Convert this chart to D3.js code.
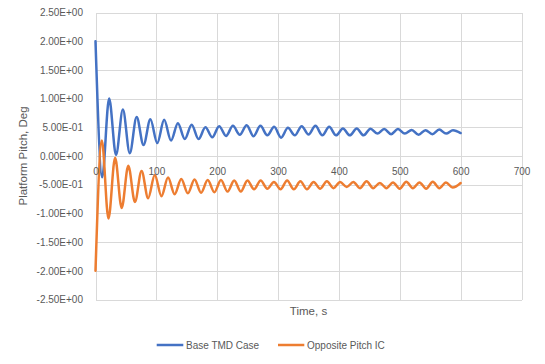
<!DOCTYPE html>
<html>
<head>
<meta charset="utf-8">
<script src="https://cdn.jsdelivr.net/npm/d3@7"></script>
<style>
  html, body { margin: 0; padding: 0; background: #fff; }
  svg { display: block; }
  text { font-family: "Liberation Sans", Arial, sans-serif; fill: #595959; }
</style>
</head>
<body>
<svg id="chart" width="545" height="364"></svg>
<script>
// ---- data ----
const seriesNames = ["Base TMD Case", "Opposite Pitch IC"];
const seriesColors = ["#4472C4", "#ED7D31"];

const baseTime = [0, 11, 22.4, 33.7, 45.0, 56.3, 67.6, 78.9, 90.2, 101.5, 112.8, 124.1, 135.4, 146.7,
  158.0, 169.3, 180.6, 191.9, 203.2, 214.5, 225.8, 237.1, 248.4, 259.7, 271.0, 282.3, 293.6, 304.9,
  316.2, 327.5, 338.8, 350.1, 361.4, 372.7, 384.0, 395.3, 406.6, 417.9, 429.2, 440.5, 451.8, 463.1,
  474.4, 485.7, 497.0, 508.3, 519.6, 530.9, 542.2, 553.5, 564.8, 576.1, 587.4, 600];
const basePitch = [2.00, -0.37, 1.00, 0.02, 0.81, 0.05, 0.68, 0.19, 0.64, 0.225, 0.63, 0.27, 0.57, 0.295,
  0.545, 0.295, 0.50, 0.325, 0.52, 0.35, 0.525, 0.37, 0.537, 0.345, 0.525, 0.36, 0.508, 0.32,
  0.49, 0.36, 0.52, 0.375, 0.525, 0.36, 0.508, 0.36, 0.478, 0.36, 0.478, 0.36, 0.475, 0.39,
  0.47, 0.38, 0.47, 0.39, 0.455, 0.37, 0.45, 0.38, 0.46, 0.39, 0.45, 0.40];

const oppTime = [0, 10.4, 21.3, 32.2, 43.0, 53.9, 64.8, 75.7, 86.5, 97.4, 108.3, 119.2, 130.0, 140.9,
  151.8, 162.7, 173.5, 184.4, 195.3, 206.2, 217.0, 227.9, 238.8, 249.7, 260.5, 271.4, 282.3, 293.2,
  304.0, 314.9, 325.8, 336.7, 347.5, 358.4, 369.3, 380.2, 391.0, 401.9, 412.8, 423.7, 434.5, 445.4,
  456.3, 467.2, 478.0, 488.9, 499.8, 510.7, 521.5, 532.4, 543.3, 554.2, 565.0, 575.9, 586.8, 600];
const oppPitch = [-2.00, 0.27, -1.09, -0.03, -0.905, -0.17, -0.80, -0.26, -0.735, -0.33, -0.70, -0.375, -0.665, -0.40,
  -0.65, -0.41, -0.64, -0.42, -0.63, -0.42, -0.62, -0.425, -0.62, -0.425, -0.58, -0.425, -0.57, -0.454,
  -0.58, -0.425, -0.58, -0.44, -0.58, -0.454, -0.57, -0.44, -0.56, -0.454, -0.54, -0.454, -0.56, -0.44,
  -0.56, -0.47, -0.56, -0.46, -0.57, -0.45, -0.56, -0.46, -0.57, -0.45, -0.56, -0.46, -0.55, -0.47];

const xTicks = [0, 100, 200, 300, 400, 500, 600, 700];
const yTicks = [-2.5, -2.0, -1.5, -1.0, -0.5, 0, 0.5, 1.0, 1.5, 2.0, 2.5];
const xTitle = "Time, s";
const yTitle = "Platform Pitch, Deg";

// ---- drawing ----
const svg = d3.select("#chart");
const plot = { left: 95.5, right: 521.5, top: 12.5, bottom: 299.5 };

const x = d3.scaleLinear().domain([0, 700]).range([plot.left, plot.right]);
const y = d3.scaleLinear().domain([-2.5, 2.5]).range([plot.bottom, plot.top]);

const sci = v => {
  const s = d3.format(".2e")(v);
  const [m, e] = s.split("e");
  const sign = e[0] === "-" ? "-" : "+";
  const digits = e.replace(/[+-]/, "").padStart(2, "0");
  return m.replace("\u2212", "-") + "E" + sign + digits;
};

const grid = svg.append("g").attr("stroke", "#d9d9d9").attr("stroke-width", 1).attr("shape-rendering", "crispEdges");
grid.selectAll("line.h").data(yTicks).join("line")
  .attr("class", "h")
  .attr("x1", plot.left).attr("x2", plot.right)
  .attr("y1", d => Math.round(y(d)) + 0.5).attr("y2", d => Math.round(y(d)) + 0.5);
grid.selectAll("line.v").data(xTicks).join("line")
  .attr("class", "v")
  .attr("y1", plot.top).attr("y2", plot.bottom)
  .attr("x1", d => Math.round(x(d)) + 0.5).attr("x2", d => Math.round(x(d)) + 0.5);

const series = [
  { name: seriesNames[0], color: seriesColors[0], t: baseTime, v: basePitch },
  { name: seriesNames[1], color: seriesColors[1], t: oppTime, v: oppPitch }
];

const line = d3.line()
  .x(d => x(d[0]))
  .y(d => y(d[1]))
  .curve(d3.curveMonotoneX);

svg.append("g").selectAll("path").data(series).join("path")
  .attr("fill", "none")
  .attr("stroke", d => d.color)
  .attr("stroke-width", 2.5)
  .attr("stroke-linejoin", "round")
  .attr("stroke-linecap", "round")
  .attr("d", d => line(d.t.map((t, i) => [t, d.v[i]])));

// Y axis labels
const yAxis = d3.axisLeft(y).tickValues(yTicks).tickFormat(sci).tickSize(0).tickPadding(12.5);
const gy = svg.append("g").attr("transform", `translate(${plot.left},0)`).call(yAxis);
gy.select(".domain").remove();
gy.selectAll("text").attr("font-size", 10).attr("fill", "#595959")
  .style("font-family", '"Liberation Sans", Arial, sans-serif');

// X axis labels at y = 0
const xAxis = d3.axisBottom(x).tickValues(xTicks).tickFormat(d3.format("d")).tickSize(0).tickPadding(12);
const gx = svg.append("g").attr("transform", `translate(0,${Math.round(y(0))})`).call(xAxis);
gx.select(".domain").remove();
gx.selectAll("text").attr("font-size", 10).attr("fill", "#595959")
  .style("font-family", '"Liberation Sans", Arial, sans-serif');

// Axis titles
svg.append("text")
  .attr("transform", `translate(27,${(plot.top + plot.bottom) / 2}) rotate(-90)`)
  .attr("text-anchor", "middle")
  .attr("font-size", 11.5)
  .text(yTitle);

svg.append("text")
  .attr("x", (plot.left + plot.right) / 2)
  .attr("y", 315)
  .attr("text-anchor", "middle")
  .attr("font-size", 11.5)
  .text(xTitle);

// Legend
const legendItems = [
  { x0: 156.7, x1: 183.3, tx: 186 },
  { x0: 278, x1: 304.3, tx: 307 }
];
const lg = svg.append("g");
series.forEach((s, i) => {
  const L = legendItems[i];
  lg.append("line").attr("x1", L.x0).attr("x2", L.x1).attr("y1", 345).attr("y2", 345)
    .attr("stroke", s.color).attr("stroke-width", 2.5);
  lg.append("text").attr("x", L.tx).attr("y", 348.6).attr("font-size", 10).text(s.name);
});
</script>
</body>
</html>
